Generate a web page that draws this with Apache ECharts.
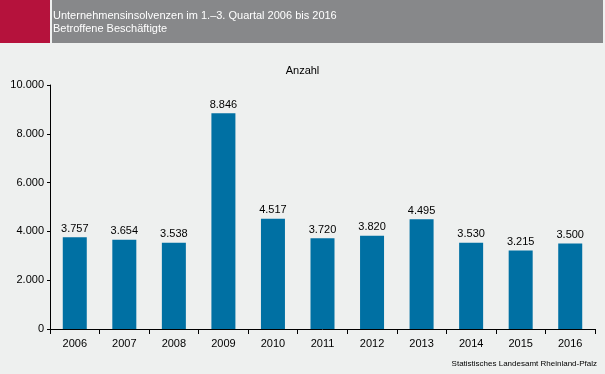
<!DOCTYPE html>
<html><head><meta charset="utf-8">
<script src="https://cdn.jsdelivr.net/npm/echarts@6/dist/echarts.min.js"></script>
<style>html,body{margin:0;padding:0;background:#eef0ef}#c{width:605px;height:374px}</style>
</head><body><div id="c"></div>
<script>
const categories = ['2006','2007','2008','2009','2010','2011','2012','2013','2014','2015','2016'];
const values = [3757, 3654, 3538, 8846, 4517, 3720, 3820, 4495, 3530, 3215, 3500];
const titleLines = ['Unternehmensinsolvenzen im 1.–3. Quartal 2006 bis 2016', 'Betroffene Beschäftigte'];
const unitLabel = 'Anzahl';
const sourceLabel = 'Statistisches Landesamt Rheinland-Pfalz';

const fmt = v => String(v).replace(/\B(?=(\d{3})+(?!\d))/g, '.');
const chart = echarts.init(document.getElementById('c'), null, {renderer: 'canvas'});
const font = '"Liberation Sans", Arial, sans-serif';
chart.setOption({
  backgroundColor: '#eef0ef',
  animation: false,
  graphic: [
    {type: 'rect', shape: {x: 0, y: 0, width: 50, height: 43}, style: {fill: '#b5123c'}},
    {type: 'rect', shape: {x: 52, y: 0, width: 551, height: 43}, style: {fill: '#87888a'}},
    {type: 'text', left: 53, top: 9, style: {text: titleLines.join('\n'), fill: '#ffffff', font: '11px ' + font, lineHeight: 13}},
    {type: 'text', right: 8, top: 360, style: {text: sourceLabel, fill: '#000', font: '8px ' + font}}
  ],
  title: {text: unitLabel, left: 'center', top: 60, textStyle: {fontSize: 11, fontWeight: 'normal', color: '#000', fontFamily: font}},
  grid: {left: 50, right: 10, top: 85, bottom: 45, containLabel: false},
  xAxis: {
    type: 'category', data: categories,
    axisLine: {lineStyle: {color: '#000', width: 1}},
    axisTick: {show: true, alignWithLabel: false, length: 5, lineStyle: {color: '#000'}},
    axisLabel: {color: '#000', fontSize: 11, fontFamily: font, margin: 9}
  },
  yAxis: {
    type: 'value', min: 0, max: 10000, interval: 2000,
    axisLine: {show: true, lineStyle: {color: '#000'}},
    axisTick: {show: true, length: 3, lineStyle: {color: '#000'}},
    splitLine: {show: false},
    axisLabel: {color: '#000', fontSize: 11, fontFamily: font, margin: 6, formatter: fmt}
  },
  series: [{
    type: 'bar', data: values, barWidth: 24,
    itemStyle: {color: '#0070a3'},
    label: {show: true, position: 'top', distance: 3, color: '#000', fontSize: 11, fontFamily: font, formatter: p => fmt(p.value)}
  }]
});
</script></body></html>
